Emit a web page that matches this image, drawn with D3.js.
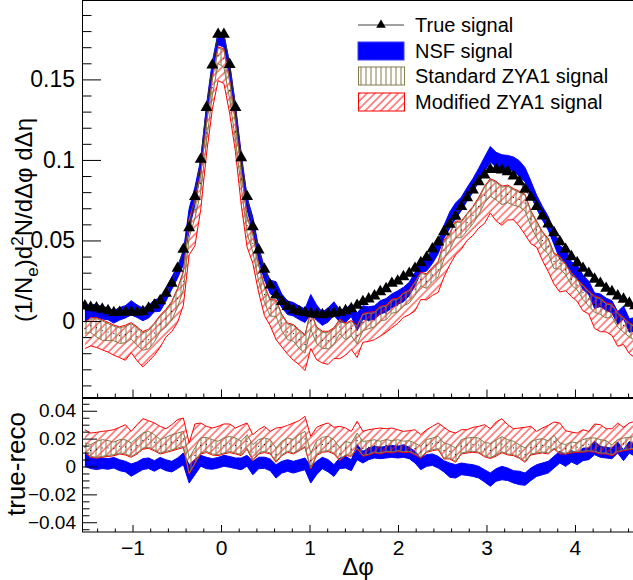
<!DOCTYPE html>
<html>
<head>
<meta charset="utf-8">
<script src="https://cdn.jsdelivr.net/npm/d3@7"></script>
<style>
  body { margin: 0; background: #fff; }
  svg { display: block; }
  text { font-family: "Liberation Sans", Arial, Helvetica, sans-serif; fill: #000; }
</style>
</head>
<body>
<div id="chart"></div>
<script>
// 96 bins in delta phi, from -pi/2 to 3pi/2
const nBins = 96;

const trueSig = [.0093,.0085,.0081,.0073,.0064,.0052,.0054,.0056,.0056,.0054,
 .0058,.0079,.0099,.0126,.0172,.0234,.0327,.0445,.0579,.0772,
 .1004,.1326,.1589,.1780,.1780,.1593,.1326,.1014,.0772,.0585,
 .0441,.0321,.0223,.0161,.0120,.0089,.0068,.0058,.0052,.0045,
 .0041,.0039,.0043,.0048,.0054,.0064,.0076,.0097,.0120,.0137,
 .0155,.0182,.0200,.0234,.0248,.0275,.0296,.0327,.0362,.0395,
 .0447,.0490,.0554,.0600,.0650,.0710,.0765,.0813,.0865,.0906,
 .0941,.0941,.0937,.0927,.0900,.0865,.0817,.0768,.0710,.0652,
 .0602,.0548,.0492,.0445,.0399,.0362,.0327,.0296,.0259,.0234,
 .0203,.0182,.0155,.0135,.0110,.0095];

// upper panel: reconstructed signals
const nsfSig = [.0044,.0062,.0064,.0050,.0046,.0025,.0045,.0057,.0082,.0061,
 .0041,.0056,.0095,.0099,.0163,.0235,.0304,.0390,.0632,.0777,
 .0963,.1301,.1571,.1753,.1739,.1560,.1303,.0995,.0731,.0596,
 .0416,.0294,.0211,.0196,.0125,.0082,.0073,.0051,.0033,.0104,
 .0052,.0014,.0038,.0077,.0031,.0033,.0067,-.0006,.0053,.0046,
 .0052,.0085,.0097,.0125,.0145,.0164,.0199,.0260,.0343,.0352,
 .0398,.0459,.0553,.0626,.0685,.0727,.0788,.0842,.0906,.0973,
 .1035,.1002,.0984,.0983,.0974,.0947,.0908,.0824,.0739,.0669,
 .0607,.0517,.0425,.0402,.0326,.0307,.0240,.0205,.0126,.0129,
 .0104,.0088,.0019,.0054,-.0028,-.0020];
const nsfErr = [.0048,.0038,.0039,.0038,.0038,.0038,.0039,.0038,.0044,.0039,
 .0039,.0038,.0038,.0038,.0039,.0038,.0038,.0042,.0066,.0054,
 .0039,.0041,.0038,.0038,.0039,.0039,.0038,.0042,.0039,.0048,
 .0041,.0040,.0042,.0048,.0042,.0042,.0042,.0042,.0042,.0060,
 .0048,.0041,.0044,.0042,.0038,.0042,.0039,.0054,.0042,.0042,
 .0042,.0041,.0042,.0043,.0042,.0045,.0041,.0042,.0042,.0042,
 .0041,.0042,.0040,.0051,.0048,.0042,.0041,.0042,.0042,.0044,
 .0048,.0045,.0048,.0045,.0044,.0048,.0044,.0045,.0042,.0042,
 .0042,.0042,.0042,.0042,.0041,.0042,.0045,.0042,.0048,.0039,
 .0038,.0038,.0039,.0039,.0042,.0042];
const stdSig = [-.0046,-.0030,-.0042,-.0060,-.0069,-.0078,-.0091,-.0085,-.0065,-.0097,
 -.0128,-.0116,-.0075,-.0019,.0013,.0060,.0141,.0247,.0572,.0693,
 .0853,.1167,.1448,.1647,.1629,.1431,.1175,.0881,.0592,.0482,
 .0296,.0164,.0078,.0076,-.0013,-.0068,-.0077,-.0116,-.0146,.0002,
 -.0092,-.0120,-.0122,-.0097,-.0037,-.0069,-.0048,-.0089,-.0010,.0000,
 .0007,.0043,.0049,.0089,.0095,.0131,.0149,.0198,.0257,.0244,
 .0285,.0318,.0439,.0491,.0565,.0565,.0611,.0654,.0711,.0781,
 .0826,.0806,.0777,.0786,.0767,.0754,.0732,.0633,.0565,.0500,
 .0461,.0370,.0359,.0318,.0259,.0223,.0176,.0137,.0102,.0089,
 .0062,.0062,.0004,-.0027,-.0058,-.0079];
const stdErr = [.0030,.0042,.0057,.0060,.0053,.0045,.0048,.0051,.0048,.0054,
 .0054,.0057,.0054,.0048,.0050,.0054,.0054,.0054,.0054,.0054,
 .0054,.0050,.0051,.0048,.0054,.0054,.0054,.0048,.0048,.0054,
 .0048,.0048,.0048,.0048,.0048,.0048,.0048,.0054,.0054,.0054,
 .0048,.0050,.0051,.0048,.0042,.0048,.0044,.0054,.0050,.0048,
 .0044,.0042,.0042,.0041,.0039,.0038,.0038,.0039,.0039,.0042,
 .0042,.0044,.0054,.0048,.0048,.0048,.0050,.0050,.0050,.0048,
 .0051,.0054,.0054,.0051,.0048,.0045,.0048,.0045,.0048,.0048,
 .0044,.0045,.0036,.0030,.0036,.0030,.0042,.0045,.0048,.0048,
 .0044,.0036,.0042,.0042,.0041,.0042];
const modLo = [-.0171,-.0155,-.0164,-.0179,-.0193,-.0212,-.0227,-.0244,-.0196,-.0246,
 -.0285,-.0250,-.0213,-.0162,-.0099,-.0066,-.0009,.0097,.0411,.0467,
 .0692,.1038,.1313,.1492,.1475,.1288,.1050,.0719,.0460,.0357,
 .0177,.0033,-.0029,-.0115,-.0161,-.0206,-.0244,-.0271,-.0308,-.0171,
 -.0240,-.0261,-.0269,-.0233,-.0234,-.0212,-.0176,-.0227,-.0132,-.0127,
 -.0116,-.0094,-.0071,-.0042,-.0016,.0023,.0039,.0063,.0134,.0131,
 .0159,.0178,.0273,.0348,.0410,.0446,.0501,.0532,.0577,.0606,
 .0670,.0622,.0594,.0627,.0629,.0589,.0536,.0480,.0458,.0376,
 .0307,.0229,.0180,.0188,.0152,.0122,.0063,.0044,-.0046,-.0066,
 -.0068,-.0089,-.0157,-.0146,-.0202,-.0229];
const modHi = [-.0007,.0019,.0021,.0007,-.0008,-.0025,-.0036,-.0026,-.0010,-.0036,
 -.0066,-.0051,-.0013,.0036,.0072,.0122,.0203,.0309,.0634,.0754,
 .0914,.1226,.1507,.1702,.1690,.1493,.1236,.0936,.0648,.0543,
 .0351,.0221,.0133,.0131,.0042,-.0013,-.0022,-.0055,-.0085,.0063,
 -.0037,-.0063,-.0064,-.0042,.0012,-.0014,.0003,-.0028,.0047,.0055,
 .0058,.0092,.0098,.0137,.0141,.0176,.0194,.0244,.0303,.0293,
 .0334,.0369,.0500,.0546,.0620,.0620,.0668,.0711,.0768,.0836,
 .0884,.0867,.0838,.0844,.0822,.0806,.0787,.0685,.0620,.0555,
 .0512,.0422,.0402,.0355,.0302,.0260,.0225,.0189,.0157,.0144,
 .0113,.0105,.0053,.0022,-.0010,-.0030];

// lower panel: true - reco
const nsfDiff = [.0049,.0023,.0017,.0023,.0018,.0027,.0009,-.0001,-.0026,-.0007,
 .0017,.0023,.0004,.0027,.0009,-.0001,.0023,.0055,-.0053,-.0005,
 .0041,.0025,.0018,.0027,.0041,.0033,.0023,.0019,.0041,-.0011,
 .0025,.0027,.0012,-.0035,-.0005,.0007,-.0005,.0007,.0019,-.0059,
 -.0011,.0025,.0005,-.0029,.0023,.0031,.0009,.0103,.0067,.0091,
 .0103,.0097,.0103,.0109,.0103,.0111,.0097,.0067,.0019,.0043,
 .0049,.0031,.0001,-.0026,-.0035,-.0017,-.0023,-.0029,-.0041,-.0067,
 -.0094,-.0061,-.0047,-.0056,-.0074,-.0082,-.0091,-.0056,-.0029,-.0017,
 -.0005,.0031,.0067,.0043,.0073,.0055,.0087,.0091,.0133,.0105,
 .0099,.0094,.0136,.0081,.0138,.0115];
const stdDiff = [.0139,.0115,.0123,.0133,.0133,.0130,.0145,.0141,.0121,.0151,
 .0186,.0195,.0174,.0145,.0159,.0174,.0186,.0198,.0007,.0079,
 .0151,.0159,.0141,.0133,.0151,.0162,.0151,.0133,.0180,.0103,
 .0145,.0157,.0145,.0085,.0133,.0157,.0145,.0174,.0198,.0043,
 .0133,.0159,.0165,.0145,.0091,.0133,.0124,.0186,.0130,.0137,
 .0148,.0139,.0151,.0145,.0153,.0144,.0147,.0129,.0105,.0151,
 .0162,.0172,.0115,.0109,.0085,.0145,.0154,.0159,.0154,.0125,
 .0115,.0135,.0160,.0141,.0133,.0111,.0085,.0135,.0145,.0152,
 .0141,.0178,.0133,.0127,.0140,.0139,.0151,.0159,.0157,.0145,
 .0141,.0120,.0151,.0162,.0168,.0174];
const modDiffLo = [.0100,.0066,.0060,.0066,.0072,.0077,.0090,.0082,.0066,.0090,
 .0124,.0130,.0112,.0090,.0100,.0112,.0124,.0136,-.0055,.0018,
 .0090,.0100,.0082,.0078,.0090,.0100,.0090,.0078,.0124,.0042,
 .0090,.0100,.0090,.0030,.0078,.0102,.0090,.0113,.0137,-.0018,
 .0078,.0102,.0107,.0090,.0042,.0078,.0073,.0125,.0073,.0082,
 .0097,.0090,.0102,.0097,.0107,.0099,.0102,.0083,.0059,.0102,
 .0113,.0121,.0054,.0054,.0030,.0090,.0097,.0102,.0097,.0070,
 .0057,.0074,.0099,.0083,.0078,.0059,.0030,.0083,.0090,.0097,
 .0090,.0126,.0090,.0090,.0097,.0102,.0102,.0107,.0102,.0090,
 .0090,.0077,.0102,.0113,.0120,.0125];
const modDiffHi = [.0264,.0240,.0245,.0252,.0257,.0264,.0281,.0300,.0252,.0300,
 .0343,.0329,.0312,.0288,.0271,.0300,.0336,.0348,.0168,.0305,
 .0312,.0288,.0276,.0288,.0305,.0305,.0276,.0295,.0312,.0228,
 .0264,.0288,.0252,.0276,.0281,.0295,.0312,.0329,.0360,.0216,
 .0281,.0300,.0312,.0281,.0288,.0276,.0252,.0324,.0252,.0264,
 .0271,.0276,.0271,.0276,.0264,.0252,.0257,.0264,.0228,.0264,
 .0288,.0312,.0281,.0252,.0240,.0264,.0264,.0281,.0288,.0300,
 .0271,.0319,.0343,.0300,.0271,.0276,.0281,.0288,.0252,.0276,
 .0295,.0319,.0312,.0257,.0247,.0240,.0264,.0252,.0305,.0300,
 .0271,.0271,.0312,.0281,.0312,.0324];

const legendLabels = ["True signal", "NSF signal", "Standard ZYA1 signal", "Modified ZYA1 signal"];
const xTicks = [-1, 0, 1, 2, 3, 4];
const yTopTicks = [0, 0.05, 0.1, 0.15];
const yBotTicks = [-0.04, -0.02, 0, 0.02, 0.04];

const binW = 2 * Math.PI / nBins;
const phi = d3.range(nBins).map(i => -Math.PI / 2 + (i + 0.5) * binW);

const width = 633, height = 580;
const left = 82, right = 638;
const top1 = 0, bot1 = 397.5, top2 = 398.5, bot2 = 532;

const blue = "#0000ff", red = "#ff0000", olive = "#847a4c";

const svg = d3.select("#chart").append("svg")
    .attr("width", width).attr("height", height);

const defs = svg.append("defs");
defs.append("pattern").attr("id", "vhatch")
    .attr("patternUnits", "userSpaceOnUse").attr("width", 5).attr("height", 5)
  .append("line").attr("x1", 1).attr("y1", -1).attr("x2", 1).attr("y2", 6)
    .attr("stroke", olive).attr("stroke-width", 1);
defs.append("pattern").attr("id", "dhatch")
    .attr("patternUnits", "userSpaceOnUse").attr("width", 5.5).attr("height", 5.5)
    .attr("patternTransform", "rotate(45)")
  .append("line").attr("x1", 1).attr("y1", -1).attr("x2", 1).attr("y2", 7)
    .attr("stroke", red).attr("stroke-width", 0.9);
defs.append("clipPath").attr("id", "clipTop").append("rect")
    .attr("x", left).attr("y", top1).attr("width", right - left).attr("height", bot1 - top1);
defs.append("clipPath").attr("id", "clipBot").append("rect")
    .attr("x", left).attr("y", top2).attr("width", right - left).attr("height", bot2 - top2);

const x = d3.scaleLinear().domain([-Math.PI / 2, 3 * Math.PI / 2]).range([left, right]);
const y1 = d3.scaleLinear().domain([-0.0475, 0.1993]).range([bot1, top1]);
const y2 = d3.scaleLinear().domain([-0.047, 0.0495]).range([bot2, 397.5]);

function drawBand(g, lo, hi, ys, fill, stroke) {
    const area = d3.area()
        .x((d, i) => x(phi[i]))
        .y0((d, i) => ys(lo[i]))
        .y1((d, i) => ys(hi[i]));
    g.append("path").datum(phi).attr("d", area).attr("fill", fill);
    [lo, hi].forEach(arr => {
        g.append("path").datum(phi)
            .attr("d", d3.line().x((d, i) => x(phi[i])).y((d, i) => ys(arr[i])))
            .attr("fill", "none").attr("stroke", stroke).attr("stroke-width", 1);
    });
}
const minus = (c, e) => c.map((v, i) => v - e[i]);
const plus = (c, e) => c.map((v, i) => v + e[i]);

// ---- upper panel
const gTop = svg.append("g").attr("clip-path", "url(#clipTop)");
drawBand(gTop, minus(nsfSig, nsfErr), plus(nsfSig, nsfErr), y1, blue, blue);
drawBand(gTop, modLo, modHi, y1, "url(#dhatch)", red);
drawBand(gTop, minus(stdSig, stdErr), plus(stdSig, stdErr), y1, "url(#vhatch)", olive);
gTop.selectAll(".dot").data(stdSig).enter().append("rect")
    .attr("x", (d, i) => x(phi[i]) - 0.5).attr("y", d => y1(d) - 0.5)
    .attr("width", 1).attr("height", 1).attr("fill", "#000");
gTop.append("path").datum(trueSig)
    .attr("d", d3.line().x((d, i) => x(phi[i])).y(d => y1(d)))
    .attr("fill", "none").attr("stroke", "#333").attr("stroke-width", 1);
gTop.selectAll(".tri").data(trueSig).enter().append("path")
    .attr("d", d3.symbol(d3.symbolTriangle, 62))
    .attr("transform", (d, i) => `translate(${x(phi[i])},${y1(d)})`)
    .attr("fill", "#000");

// ---- lower panel
const gBot = svg.append("g").attr("clip-path", "url(#clipBot)");
drawBand(gBot, minus(nsfDiff, nsfErr), plus(nsfDiff, nsfErr), y2, blue, blue);
drawBand(gBot, modDiffLo, modDiffHi, y2, "url(#dhatch)", red);
drawBand(gBot, minus(stdDiff, stdErr), plus(stdDiff, stdErr), y2, "url(#vhatch)", olive);
gBot.selectAll(".dot").data(stdDiff).enter().append("rect")
    .attr("x", (d, i) => x(phi[i]) - 0.5).attr("y", d => y2(d) - 0.5)
    .attr("width", 1).attr("height", 1).attr("fill", "#000");

// ---- frames
svg.append("rect").attr("x", left + 0.5).attr("y", top1 + 0.5)
    .attr("width", right - left).attr("height", bot1 - top1 - 0.5)
    .attr("fill", "none").attr("stroke", "#000").attr("stroke-width", 1);
svg.append("rect").attr("x", left + 0.5).attr("y", top2)
    .attr("width", right - left).attr("height", bot2 - top2)
    .attr("fill", "none").attr("stroke", "#000").attr("stroke-width", 1);

// ---- axes
const fmtY = d => d < 0 ? "\u2212" + String(+(-d).toFixed(3)) : String(+d.toFixed(3));
const fmtX = d => d < 0 ? "\u2212" + (-d) : String(d);

function styleAxis(g, size) {
    g.select(".domain").remove();
    g.selectAll("line").attr("stroke", "#000");
    g.selectAll("text").style("font-size", size + "px")
        .style("font-family", '"Liberation Sans", Arial, sans-serif');
}

const yTopMinor = d3.range(-4, 20).map(k => k / 100).filter(v => Math.round(v * 100) % 5 !== 0);
svg.append("g").attr("transform", `translate(${left},0)`)
    .call(d3.axisLeft(y1).tickValues(yTopTicks).tickSize(-19).tickPadding(7).tickFormat(fmtY))
    .call(g => styleAxis(g, 23));
svg.append("g").attr("transform", `translate(${left},0)`)
    .call(d3.axisLeft(y1).tickValues(yTopMinor).tickSize(-9.5).tickFormat(""))
    .call(g => styleAxis(g, 10));

const yBotMinor = d3.range(-9, 10).map(k => k * 0.005)
    .filter(v => Math.abs(Math.round(v * 1000)) % 20 !== 0);
svg.append("g").attr("transform", `translate(${left},0)`)
    .call(d3.axisLeft(y2).tickValues(yBotTicks).tickSize(-15).tickPadding(6).tickFormat(fmtY))
    .call(g => styleAxis(g, 19));
svg.append("g").attr("transform", `translate(${left},0)`)
    .call(d3.axisLeft(y2).tickValues(yBotMinor).tickSize(-7.5).tickFormat(""))
    .call(g => styleAxis(g, 10));

const xMinor = d3.range(-7, 24).filter(k => k % 5 !== 0).map(k => k * 0.2);
svg.append("g").attr("transform", `translate(0,${bot1})`)
    .call(d3.axisBottom(x).tickValues(xTicks).tickSize(-8).tickFormat(""))
    .call(g => styleAxis(g, 10));
svg.append("g").attr("transform", `translate(0,${bot1})`)
    .call(d3.axisBottom(x).tickValues(xMinor).tickSize(-4).tickFormat(""))
    .call(g => styleAxis(g, 10));
svg.append("g").attr("transform", `translate(0,${bot2})`)
    .call(d3.axisBottom(x).tickValues(xTicks).tickSize(-7).tickPadding(8).tickFormat(fmtX))
    .call(g => styleAxis(g, 21));
svg.append("g").attr("transform", `translate(0,${bot2})`)
    .call(d3.axisBottom(x).tickValues(xMinor).tickSize(-3.5).tickFormat(""))
    .call(g => styleAxis(g, 10));

// ---- axis titles
const yt = svg.append("text")
    .attr("transform", "translate(32,220) rotate(-90)")
    .attr("text-anchor", "middle").style("font-size", "24px");
yt.append("tspan").text("(1/N");
yt.append("tspan").text("e").attr("dy", 6).style("font-size", "17px");
yt.append("tspan").text(")d").attr("dy", -6);
yt.append("tspan").text("2").attr("dy", -9).style("font-size", "17px");
yt.append("tspan").text("N/d\u0394\u03c6 d\u0394\u03b7").attr("dy", 9);

svg.append("text")
    .attr("transform", "translate(25,464) rotate(-90)")
    .attr("text-anchor", "middle").style("font-size", "26px")
    .text("true-reco");

svg.append("text").attr("x", 358).attr("y", 575)
    .attr("text-anchor", "middle").style("font-size", "24px")
    .text("\u0394\u03c6");

// ---- legend
const legY = [25, 51, 76, 102];
const bx = 358, bw = 46, bh = 18;
const leg = svg.append("g");
leg.append("line").attr("x1", bx).attr("x2", bx + bw).attr("y1", legY[0]).attr("y2", legY[0])
    .attr("stroke", "#444").attr("stroke-width", 1);
leg.append("path").attr("d", d3.symbol(d3.symbolTriangle, 40))
    .attr("transform", `translate(${bx + bw / 2},${legY[0]})`).attr("fill", "#000");
leg.append("rect").attr("x", bx).attr("y", legY[1] - bh / 2).attr("width", bw).attr("height", bh)
    .attr("fill", blue).attr("stroke", "#3b3bff");
leg.append("rect").attr("x", bx + 0.5).attr("y", legY[2] - bh / 2).attr("width", bw).attr("height", bh)
    .attr("fill", "url(#vhatch)").attr("stroke", olive);
leg.append("rect").attr("x", bx + 0.5).attr("y", legY[3] - bh / 2).attr("width", bw).attr("height", bh)
    .attr("fill", "url(#dhatch)").attr("stroke", red);
leg.selectAll(".lt").data(legendLabels).enter().append("text")
    .attr("x", 415).attr("y", (d, i) => legY[i] + 7)
    .style("font-size", "20px").text(d => d);
</script>
</body>
</html>
